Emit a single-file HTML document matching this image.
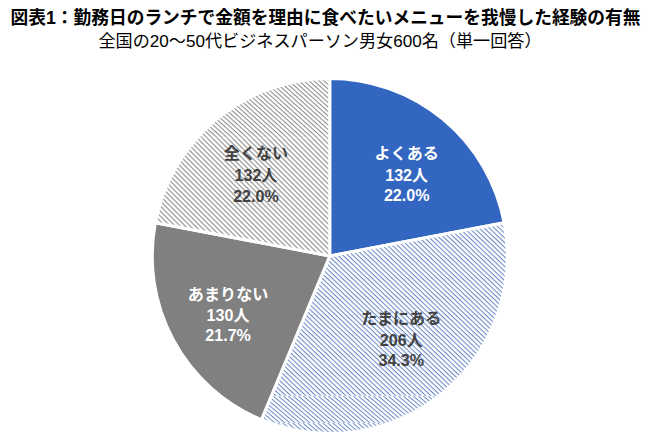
<!DOCTYPE html>
<html lang="ja"><head><meta charset="utf-8"><title>図表1</title><style>
html,body{margin:0;padding:0;background:#fff}
body{width:650px;height:443px;position:relative;overflow:hidden;font-family:"Liberation Sans","Noto Sans CJK JP",sans-serif}
svg{position:absolute;left:0;top:0;display:block}
svg text{font-family:"Liberation Sans","Noto Sans CJK JP",sans-serif}
.x{position:absolute;white-space:nowrap;overflow:hidden;color:transparent;height:1.2em}
.b{font-weight:bold}
</style></head><body>
<svg width="650" height="443" viewBox="0 0 650 443" role="img" aria-label="pie chart">
<defs><clipPath id="c1"><path d="M329.75 255.95L504.11 222.69A177.5 177.5 0 0 1 261.31 419.72Z"/></clipPath><pattern id="hb0" patternUnits="userSpaceOnUse" width="40" height="3.4437" patternTransform="rotate(43.531) translate(0 0.00)"><rect width="40" height="3.4437" fill="#fff"/><rect width="40" height="1.052" fill="#6888c6"/></pattern><pattern id="hb1" patternUnits="userSpaceOnUse" width="40" height="3.2382" patternTransform="rotate(40.365) translate(0 1.20)"><rect width="40" height="3.2382" fill="#fff"/><rect width="40" height="0.989" fill="#6888c6"/></pattern><pattern id="hb2" patternUnits="userSpaceOnUse" width="40" height="3.2382" patternTransform="rotate(40.365) translate(0 2.60)"><rect width="40" height="3.2382" fill="#fff"/><rect width="40" height="0.989" fill="#6888c6"/></pattern><clipPath id="c3"><path d="M329.75 255.95L155.39 222.69A177.5 177.5 0 0 1 329.75 78.45Z"/></clipPath><pattern id="hg0" patternUnits="userSpaceOnUse" width="40" height="3.3448" patternTransform="rotate(41.987) translate(0 0.00)"><rect width="40" height="3.3448" fill="#fff"/><rect width="40" height="1.022" fill="#8a8a8a"/></pattern><pattern id="hg1" patternUnits="userSpaceOnUse" width="40" height="3.5355" patternTransform="rotate(45.000) translate(0 0.00)"><rect width="40" height="3.5355" fill="#fff"/><rect width="40" height="1.080" fill="#8a8a8a"/></pattern></defs>
<g stroke="#fff" stroke-width="3.0" stroke-linejoin="round">
<path d="M329.75 255.95L329.75 78.45A177.5 177.5 0 0 1 504.11 222.69Z" fill="#3366c1"/>
<g clip-path="url(#c1)" stroke="none"><rect x="140" y="215" width="380" height="181" fill="url(#hb0)"/><rect x="140" y="396" width="380" height="27" fill="url(#hb1)"/><rect x="140" y="423" width="380" height="17" fill="url(#hb2)"/><rect x="140" y="395.7" width="380" height="0.6" fill="#fff" opacity="0.6"/><rect x="140" y="422.7" width="380" height="0.6" fill="#fff" opacity="0.6"/></g>
<path d="M329.75 255.95L504.11 222.69A177.5 177.5 0 0 1 261.31 419.72Z" fill="none"/>
<path d="M329.75 255.95L261.31 419.72A177.5 177.5 0 0 1 155.39 222.69Z" fill="#808080"/>
<g clip-path="url(#c3)" stroke="none"><rect x="140" y="70" width="380" height="68" fill="url(#hg0)"/><rect x="140" y="138" width="380" height="124" fill="url(#hg1)"/><rect x="140" y="137.7" width="380" height="0.6" fill="#fff" opacity="0.6"/></g>
<path d="M329.75 255.95L155.39 222.69A177.5 177.5 0 0 1 329.75 78.45Z" fill="none"/>
</g>
<text x="10.5" y="23.8" font-size="17.78" font-weight="bold" fill="#000" textLength="630" lengthAdjust="spacingAndGlyphs">図表1：勤務日のランチで金額を理由に食べたいメニューを我慢した経験の有無</text>
<text x="98.5" y="47.4" font-size="17" fill="#000" textLength="443" lengthAdjust="spacingAndGlyphs">全国の20～50代ビジネスパーソン男女600名（単一回答）</text>
<g font-size="16.1" font-weight="bold" text-anchor="middle">
<text x="406.7" y="158.8" fill="#fff">よくある</text>
<text x="406.7" y="180.7" fill="#fff">132人</text>
<text x="406.7" y="201" fill="#fff">22.0%</text>
<text x="401.3" y="323.6" fill="#424242">たまにある</text>
<text x="401.3" y="345.5" fill="#424242">206人</text>
<text x="401.3" y="365.8" fill="#424242">34.3%</text>
<text x="228.1" y="300" fill="#fff">あまりない</text>
<text x="228.1" y="321.2" fill="#fff">130人</text>
<text x="228.1" y="340.8" fill="#fff">21.7%</text>
<text x="256" y="159.3" fill="#424242">全くない</text>
<text x="256" y="181" fill="#424242">132人</text>
<text x="256" y="201.5" fill="#424242">22.0%</text>
</g>
</svg>
<div class="x b" style="left:9.5px;top:7.9px;width:631.2px;font-size:17.78px;line-height:17.78px">図表1：勤務日のランチで金額を理由に食べたいメニューを我慢した経験の有無</div>
<div class="x " style="left:98.2px;top:31.5px;width:454.7px;font-size:17.83px;line-height:17.83px">全国の20～50代ビジネスパーソン男女600名（単一回答）</div>
<div class="x b" style="left:374.5px;top:144.6px;width:64.4px;font-size:16.10px;line-height:16.40px">よくある</div>
<div class="x b" style="left:386.6px;top:165.9px;width:40.2px;font-size:16.10px;line-height:16.40px">132人</div>
<div class="x b" style="left:386.6px;top:186.2px;width:40.2px;font-size:16.10px;line-height:16.40px">22.0%</div>
<div class="x b" style="left:361.1px;top:309.4px;width:80.5px;font-size:16.10px;line-height:16.40px">たまにある</div>
<div class="x b" style="left:381.3px;top:330.7px;width:40.2px;font-size:16.10px;line-height:16.40px">206人</div>
<div class="x b" style="left:381.3px;top:351.0px;width:40.2px;font-size:16.10px;line-height:16.40px">34.3%</div>
<div class="x b" style="left:187.9px;top:285.8px;width:80.5px;font-size:16.10px;line-height:16.40px">あまりない</div>
<div class="x b" style="left:208.1px;top:306.4px;width:40.2px;font-size:16.10px;line-height:16.40px">130人</div>
<div class="x b" style="left:208.1px;top:326.0px;width:40.2px;font-size:16.10px;line-height:16.40px">21.7%</div>
<div class="x b" style="left:223.8px;top:145.1px;width:64.4px;font-size:16.10px;line-height:16.40px">全くない</div>
<div class="x b" style="left:235.9px;top:166.2px;width:40.2px;font-size:16.10px;line-height:16.40px">132人</div>
<div class="x b" style="left:235.9px;top:186.7px;width:40.2px;font-size:16.10px;line-height:16.40px">22.0%</div>
</body></html>
